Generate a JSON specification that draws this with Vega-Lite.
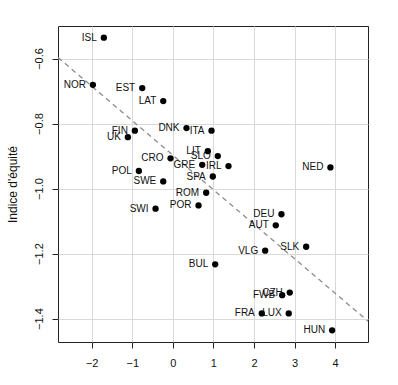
{
  "$schema": "https://vega.github.io/schema/vega-lite/v6.json",
  "width": 310,
  "height": 316,
  "autosize": {"type": "none"},
  "padding": {"left": 58, "top": 26, "right": 30, "bottom": 43},
  "background": "white",
  "config": {
    "view": {"stroke": "#222", "strokeWidth": 1},
    "font": "Liberation Sans",
    "axis": {
      "gridColor": "#d9d9d9",
      "gridWidth": 1,
      "domain": false,
      "tickSize": 6,
      "tickColor": "#222",
      "labelColor": "#111",
      "labelFontSize": 11,
      "titleFontSize": 12,
      "titleFontWeight": "normal",
      "titleColor": "#111"
    }
  },
  "datasets": {
    "pts": [
      {"pays": "ISL", "x": -1.70, "y": -0.536},
      {"pays": "NOR", "x": -1.97, "y": -0.681},
      {"pays": "EST", "x": -0.754, "y": -0.691},
      {"pays": "LAT", "x": -0.236, "y": -0.731},
      {"pays": "FIN", "x": -0.936, "y": -0.822},
      {"pays": "UK", "x": -1.108, "y": -0.842},
      {"pays": "DNK", "x": 0.337, "y": -0.814},
      {"pays": "ITA", "x": 0.953, "y": -0.822},
      {"pays": "LIT", "x": 0.862, "y": -0.885},
      {"pays": "SLO", "x": 1.108, "y": -0.900},
      {"pays": "GRE", "x": 0.724, "y": -0.927},
      {"pays": "IRL", "x": 1.372, "y": -0.931},
      {"pays": "SPA", "x": 0.985, "y": -0.963},
      {"pays": "ROM", "x": 0.822, "y": -1.013},
      {"pays": "POR", "x": 0.633, "y": -1.052},
      {"pays": "NED", "x": 3.884, "y": -0.935},
      {"pays": "DEU", "x": 2.677, "y": -1.079},
      {"pays": "AUT", "x": 2.537, "y": -1.113},
      {"pays": "CRO", "x": -0.057, "y": -0.907},
      {"pays": "POL", "x": -0.837, "y": -0.946},
      {"pays": "SWE", "x": -0.236, "y": -0.978},
      {"pays": "SWI", "x": -0.426, "y": -1.062},
      {"pays": "BUL", "x": 1.044, "y": -1.233},
      {"pays": "VLG", "x": 2.276, "y": -1.191},
      {"pays": "SLK", "x": 3.286, "y": -1.179},
      {"pays": "CZH", "x": 2.882, "y": -1.320},
      {"pays": "FWB", "x": 2.695, "y": -1.328},
      {"pays": "FRA", "x": 2.192, "y": -1.384},
      {"pays": "LUX", "x": 2.857, "y": -1.384},
      {"pays": "HUN", "x": 3.926, "y": -1.436}
    ],
    "fit": [
      {"x": -2.83, "y": -0.597},
      {"x": 4.81, "y": -1.408}
    ]
  },
  "layer": [
    {
      "data": {"name": "fit"},
      "mark": {"type": "line", "color": "#8c8c8c", "strokeDash": [5, 4], "strokeWidth": 1.3, "clip": true},
      "encoding": {
        "x": {
          "field": "x", "type": "quantitative",
          "scale": {"domain": [-2.83, 4.81], "nice": false, "zero": false},
          "axis": {"values": [-2, -1, 0, 1, 2, 3, 4], "format": "d", "grid": true, "labelPadding": 9, "title": null}
        },
        "y": {
          "field": "y", "type": "quantitative",
          "scale": {"domain": [-1.472, -0.5], "nice": false, "zero": false},
          "axis": {
            "values": [-1.4, -1.2, -1.0, -0.8, -0.6], "format": ".1f", "grid": true,
            "labelAngle": 270, "labelAlign": "center", "labelBaseline": "alphabetic", "labelPadding": 10,
            "title": "Indice d'équité", "titlePadding": 14
          }
        }
      }
    },
    {
      "data": {"name": "pts"},
      "mark": {"type": "circle", "color": "black", "opacity": 1, "size": 40},
      "encoding": {
        "x": {"field": "x", "type": "quantitative"},
        "y": {"field": "y", "type": "quantitative"}
      }
    },
    {
      "data": {"name": "pts"},
      "mark": {"type": "text", "align": "right", "baseline": "middle", "dx": -7, "fontSize": 10, "color": "#111"},
      "encoding": {
        "x": {"field": "x", "type": "quantitative"},
        "y": {"field": "y", "type": "quantitative"},
        "text": {"field": "pays"}
      }
    }
  ]
}
